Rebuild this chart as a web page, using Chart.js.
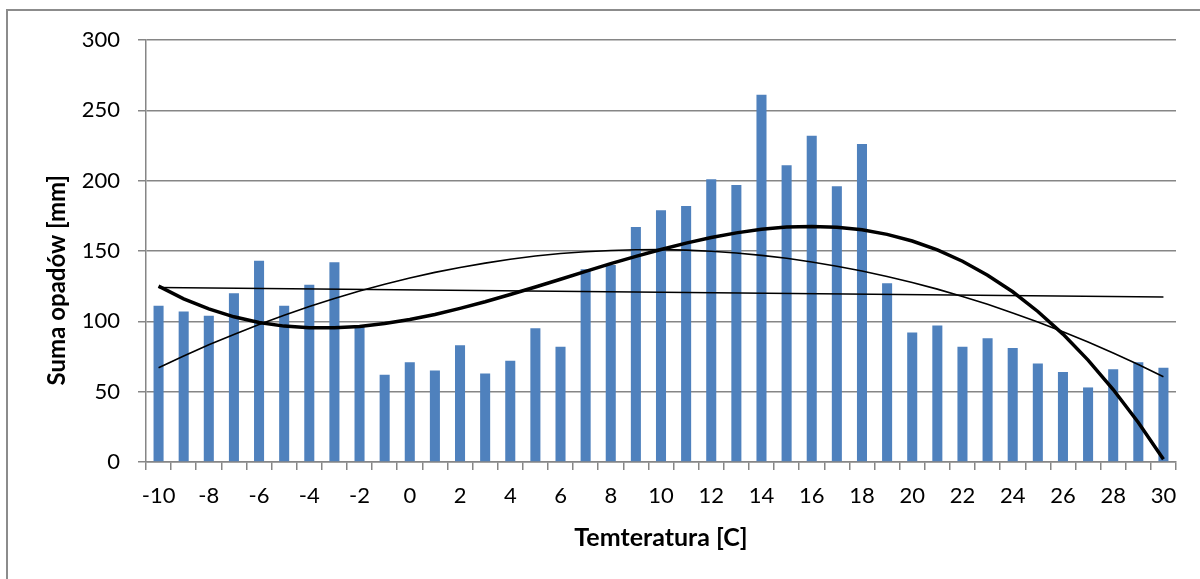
<!DOCTYPE html>
<html>
<head>
<meta charset="utf-8">
<script src="https://cdn.jsdelivr.net/npm/chart.js@4.4.1/dist/chart.umd.min.js"></script>
<style>
  html, body { margin: 0; padding: 0; background: #fff; }
  #wrap { position: relative; width: 1200px; height: 579px; overflow: hidden; }
  #frame { position: absolute; left: 6px; top: 9px; width: 1300px; height: 700px; border: 2px solid #8c8c8c; box-sizing: border-box; }
  canvas { position: absolute; left: 0; top: 0; }
</style>
</head>
<body>
<div id="wrap">
  <div id="frame"></div>
  <canvas id="c" width="1200" height="579"></canvas>
</div>
<script>
// Categories: temperature [C]
const temperatures = [-10,-9,-8,-7,-6,-5,-4,-3,-2,-1,0,1,2,3,4,5,6,7,8,9,10,11,12,13,14,15,16,17,18,19,20,21,22,23,24,25,26,27,28,29,30];
// Precipitation sum [mm]
const precipitation = [111,107,104,120,143,111,126,142,97,62,71,65,83,63,72,95,82,137,140,167,179,182,201,197,261,211,232,196,226,127,92,97,82,88,81,70,64,53,66,71,67];
// Linear trend (read at ends)
const trendLinear = [124,null,null,null,null,null,null,null,null,null,null,null,null,null,null,null,null,null,null,null,null,null,null,null,null,null,null,null,null,null,null,null,null,null,null,null,null,null,null,null,117.3];
// Polynomial trend, 2nd order
const trendPoly2 = [67.0,75.3,83.3,90.7,97.8,104.4,110.5,116.2,121.5,126.4,130.8,134.8,138.3,141.4,144.1,146.4,148.2,149.5,150.4,150.9,151.0,150.6,149.8,148.6,146.9,144.8,142.2,139.2,135.8,131.9,127.6,122.9,117.7,112.1,106.0,99.6,92.6,85.3,77.5,69.3,60.6];
// Polynomial trend, 3rd order
const trendPoly3 = [125.0,116.0,108.8,103.2,99.2,96.6,95.4,95.4,96.4,98.5,101.3,104.9,109.2,113.9,119.1,124.4,129.9,135.5,141.0,146.2,151.1,155.6,159.6,162.9,165.4,167.0,167.5,166.9,165.1,161.8,157.1,150.8,142.7,132.8,121.0,107.0,90.9,72.4,51.5,28.1,2.0];
// Axis ticks
const yTicks = [0,50,100,150,200,250,300];
const yTitle = 'Suma opadów [mm]';
const xTitle = 'Temteratura [C]';

const gridGray = '#868686';

new Chart(document.getElementById('c'), {
  data: {
    labels: temperatures,
    datasets: [
      { type: 'line', data: trendPoly3, borderColor: '#000', borderWidth: 3.5, pointRadius: 0, fill: false, order: 1, tension: 0 },
      { type: 'line', data: trendPoly2, borderColor: '#000', borderWidth: 1.6, pointRadius: 0, fill: false, order: 2, tension: 0 },
      { type: 'line', data: trendLinear, borderColor: '#000', borderWidth: 1.6, pointRadius: 0, fill: false, order: 3, spanGaps: true },
      { type: 'bar', data: precipitation, backgroundColor: '#4F81BD', borderWidth: 0, barPercentage: 0.8, categoryPercentage: 0.5, order: 10 }
    ]
  },
  options: {
    responsive: false,
    animation: false,
    devicePixelRatio: 1,
    layout: { padding: { left: 0, top: 40, right: 24, bottom: 0 } },
    plugins: { legend: { display: false }, tooltip: { enabled: false } },
    scales: {
      x: {
        type: 'category',
        offset: true,
        afterFit: (s) => { s.height = 117; },
        grid: { offset: true, drawOnChartArea: false, drawTicks: true, tickLength: 8, color: gridGray, lineWidth: 1.5 },
        border: { color: gridGray, width: 1.5 },
        ticks: {
          autoSkip: false, maxRotation: 0, minRotation: 0, padding: 13,
          color: '#000', font: { family: 'Lato', size: 22 },
          callback: function(v, i) { const t = temperatures[i]; return t % 2 === 0 ? String(t) : ''; }
        },
        title: { display: true, text: xTitle, color: '#000', font: { family: 'Lato', size: 25, weight: 'bold' }, padding: { top: 0, bottom: 26 } }
      },
      y: {
        min: 0, max: 300,
        afterFit: (s) => { s.width = 146; },
        afterBuildTicks: (s) => { s.ticks = yTicks.map(v => ({ value: v })); },
        grid: { color: gridGray, lineWidth: 1.5, tickLength: 8, drawTicks: true },
        border: { color: gridGray, width: 1.5 },
        ticks: { color: '#000', padding: 18, font: { family: 'Lato', size: 22 } },
        title: { display: true, text: yTitle + '\u00A0'.repeat(10), color: '#000', font: { family: 'Lato', size: 24, weight: 'bold' }, padding: { top: 43, bottom: 0 } }
      }
    }
  }
});
</script>
</body>
</html>
